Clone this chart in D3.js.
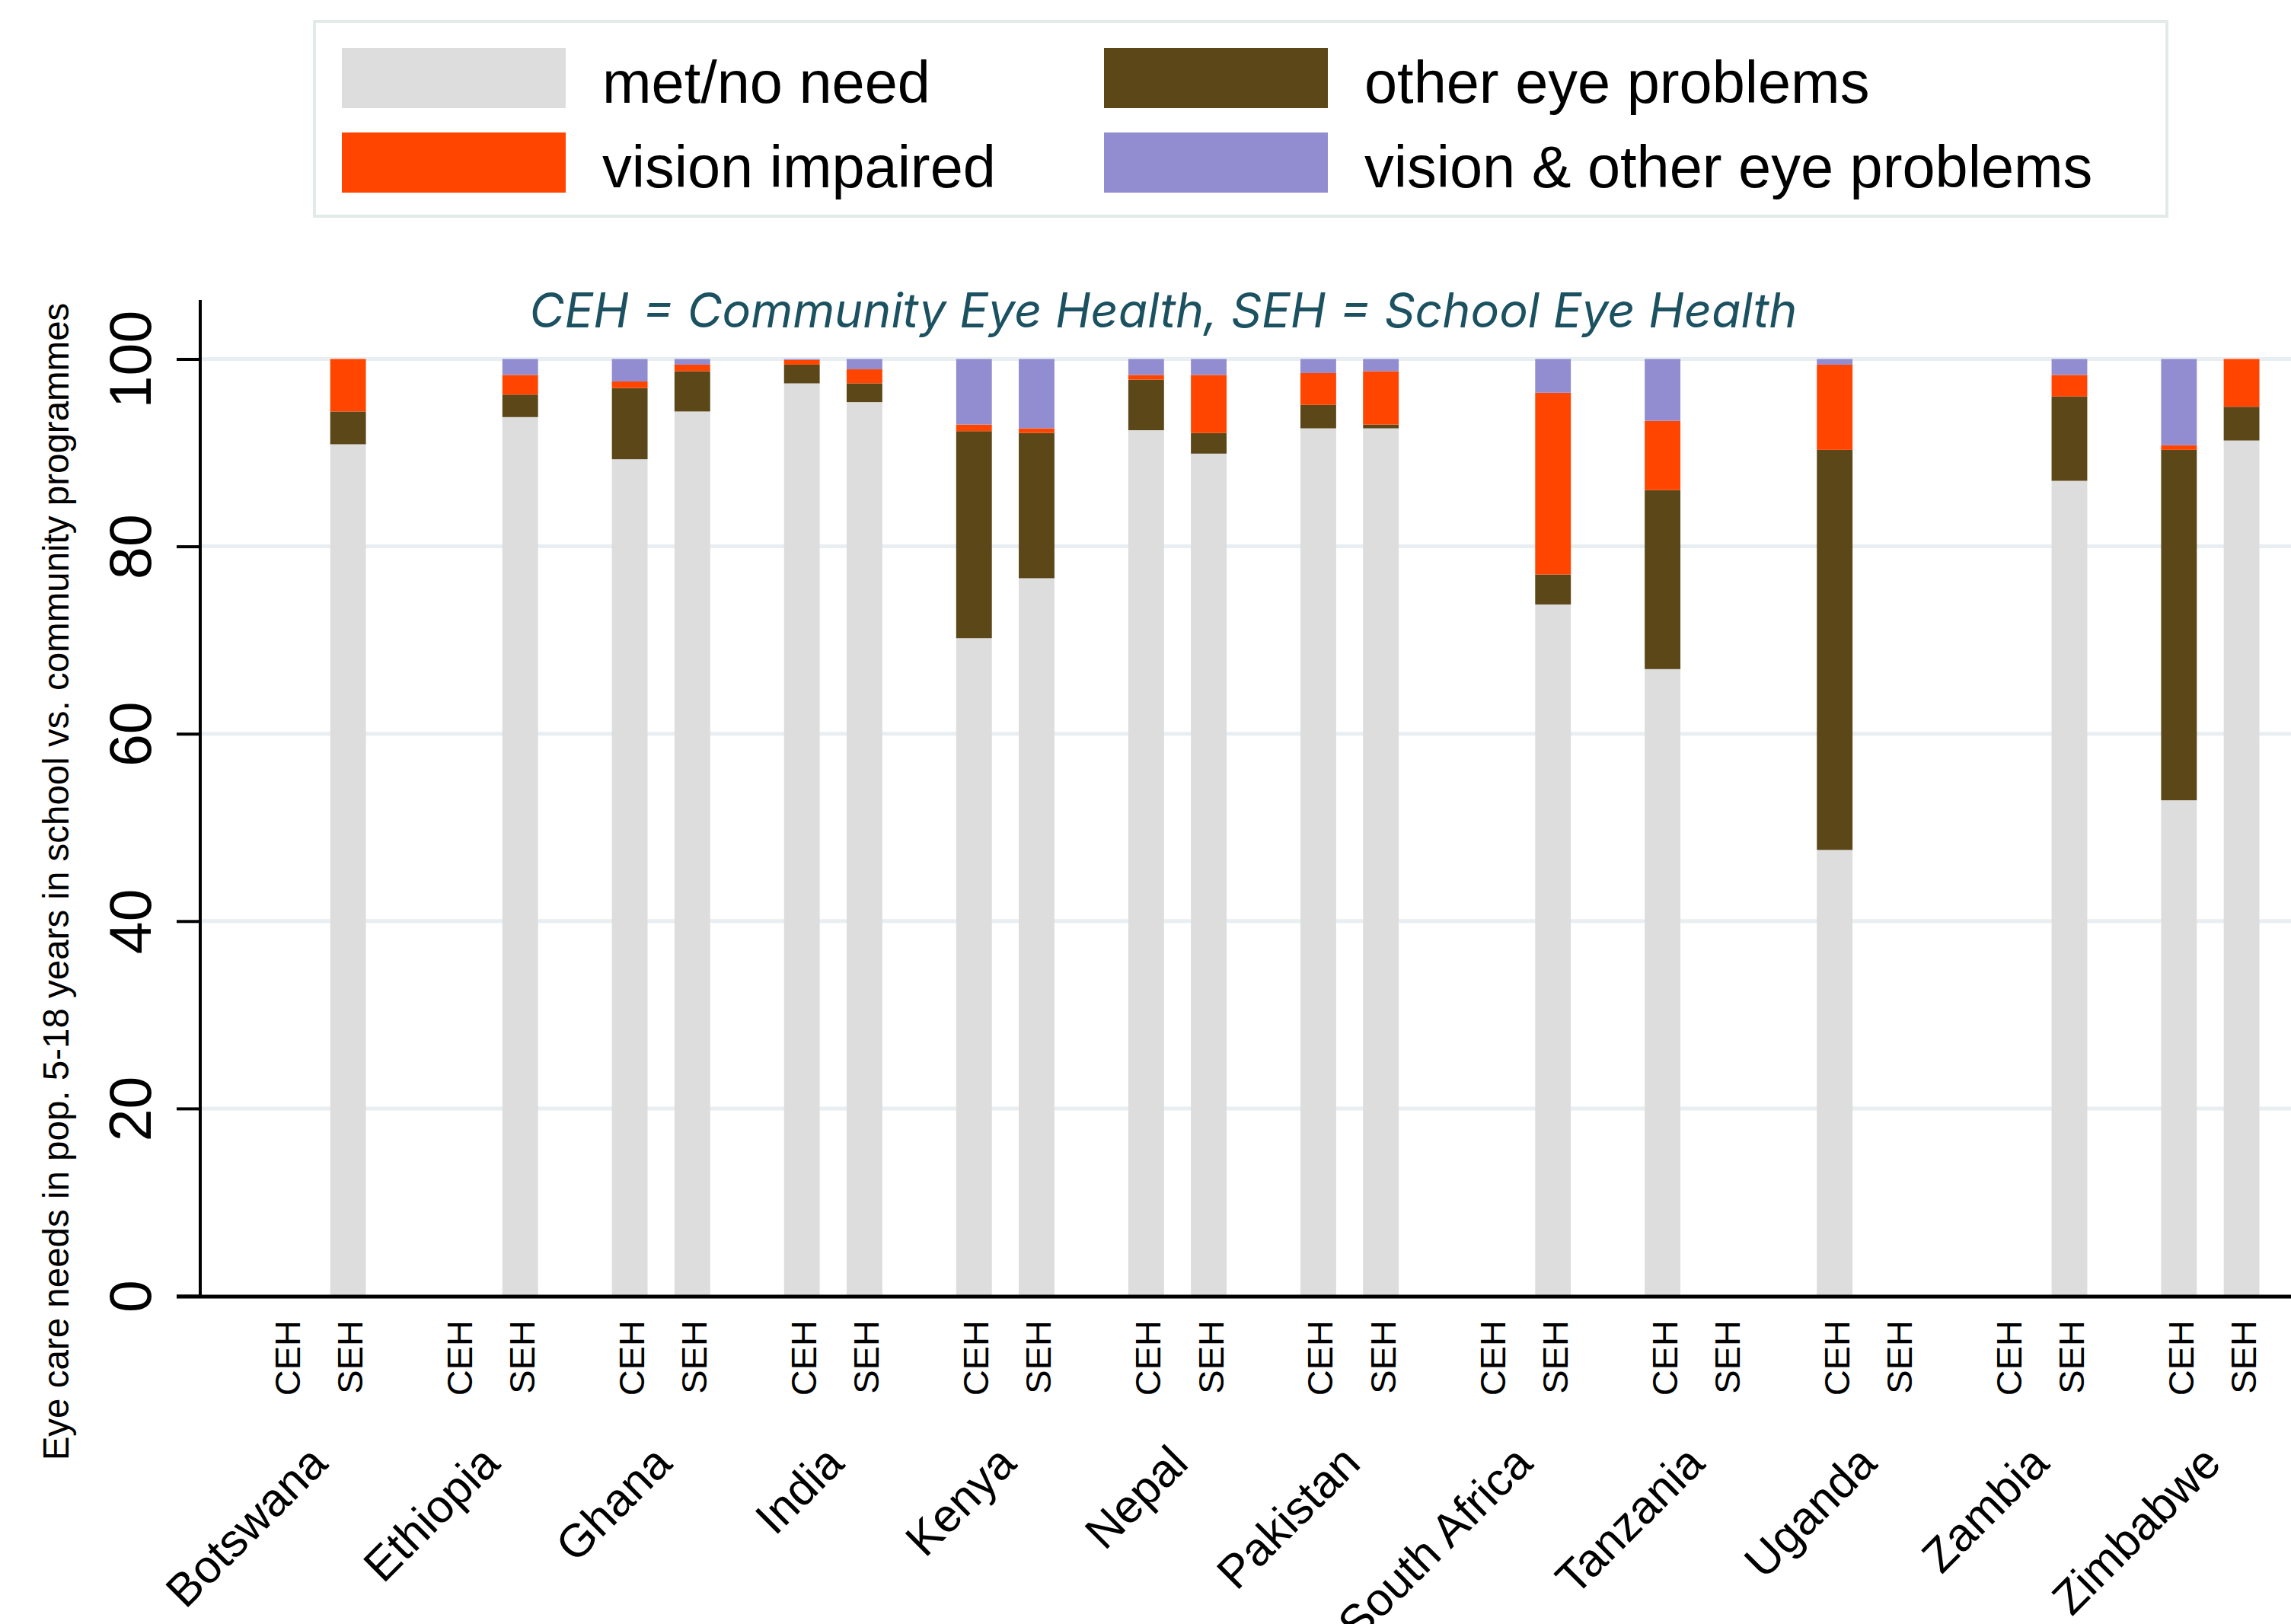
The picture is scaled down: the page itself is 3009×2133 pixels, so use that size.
<!DOCTYPE html>
<html>
<head>
<meta charset="utf-8">
<script src="https://cdn.jsdelivr.net/npm/d3@7"></script>
<style>
  body { margin: 0; background: #fff; }
  svg { display: block; }
</style>
</head>
<body>
<div id="chart"></div>
<script>
const countries = ["Botswana", "Ethiopia", "Ghana", "India", "Kenya", "Nepal",
  "Pakistan", "South Africa", "Tanzania", "Uganda", "Zambia", "Zimbabwe"];
const programmes = ["CEH", "SEH"];

// one value per bar: country by country, CEH then SEH (null = no programme)
const metNoNeed = [null, 90.9, null, 93.8, 89.3, 94.4, 97.4, 95.4, 70.2, 76.6, 92.4, 89.9,
  92.6, 92.6, null, 73.8, 66.9, null, 47.6, null, null, 87.0, 52.9, 91.3];
const otherEye = [null, 3.5, null, 2.4, 7.6, 4.3, 2.0, 2.0, 22.1, 15.5, 5.4, 2.2,
  2.5, 0.4, null, 3.2, 19.1, null, 42.7, null, null, 9.0, 37.4, 3.6];
const visionImpaired = [null, 5.6, null, 2.1, 0.7, 0.7, 0.5, 1.5, 0.7, 0.5, 0.5, 6.2,
  3.4, 5.7, null, 19.4, 7.4, null, 9.1, null, null, 2.3, 0.5, 5.1];
const visionAndOther = [null, 0, null, 1.7, 2.4, 0.6, 0.1, 1.1, 7.0, 7.4, 1.7, 1.7,
  1.5, 1.3, null, 3.6, 6.6, null, 0.6, null, null, 1.7, 9.2, 0];

const seriesKeys = ["met/no need", "other eye problems", "vision impaired", "vision & other eye problems"];
const seriesColors = ["#dddddd", "#5b4718", "#ff4500", "#928dd0"];
const yTicks = [0, 20, 40, 60, 80, 100];
const titleText = "CEH = Community Eye Health, SEH = School Eye Health";
const yTitle = "Eye care needs in pop. 5-18 years in school vs. community programmes";

const width = 3009, height = 2133;
const axisX = 263;

const svg = d3.select("#chart").append("svg")
  .attr("width", width)
  .attr("height", height)
  .style("font-family", "'Liberation Sans', Arial, sans-serif");

const rows = [];
countries.forEach((c, i) => {
  programmes.forEach((p, j) => {
    const k = i * 2 + j;
    if (metNoNeed[k] === null) return;
    rows.push({
      country: c, prog: p,
      [seriesKeys[0]]: metNoNeed[k],
      [seriesKeys[1]]: otherEye[k],
      [seriesKeys[2]]: visionImpaired[k],
      [seriesKeys[3]]: visionAndOther[k]
    });
  });
});

const x0 = d3.scaleBand().domain(countries).range([303, 3016]);
const x1 = d3.scaleBand().domain(programmes).range([0, x0.bandwidth()])
  .paddingInner(0.43).paddingOuter(0.59);
const y = d3.scaleLinear().domain([0, 106.3]).range([1702, 394]);
const color = d3.scaleOrdinal().domain(seriesKeys).range(seriesColors);

// gridlines
svg.append("g").selectAll("line")
  .data(yTicks.filter(d => d > 0))
  .join("line")
  .attr("x1", axisX).attr("x2", width)
  .attr("y1", d => y(d)).attr("y2", d => y(d))
  .attr("stroke", "#e8eef1")
  .attr("stroke-width", 5);

// stacked bars
const stacked = d3.stack().keys(seriesKeys)(rows);
svg.append("g").selectAll("g")
  .data(stacked)
  .join("g")
  .attr("fill", d => color(d.key))
  .selectAll("rect")
  .data(d => d)
  .join("rect")
  .attr("x", d => x0(d.data.country) + x1(d.data.prog))
  .attr("width", x1.bandwidth())
  .attr("y", d => y(d[1]))
  .attr("height", d => y(d[0]) - y(d[1]));

// y axis
const yAxis = svg.append("g")
  .attr("transform", `translate(${axisX},0)`)
  .call(d3.axisLeft(y).tickValues(yTicks).tickSize(31).tickFormat(d3.format("d")));
yAxis.select(".domain").remove();
yAxis.selectAll(".tick line").attr("stroke", "#000").attr("stroke-width", 4);
yAxis.selectAll(".tick text")
  .attr("transform", "rotate(-90)")
  .attr("x", 0).attr("y", -65).attr("dy", 0)
  .attr("text-anchor", "middle")
  .attr("fill", "#000")
  .style("font-family", "'Liberation Sans', Arial, sans-serif")
  .style("font-size", "77px");

svg.append("line")
  .attr("x1", axisX).attr("x2", axisX)
  .attr("y1", y(0)).attr("y2", y.range()[1])
  .attr("stroke", "#000").attr("stroke-width", 4);
svg.append("line")
  .attr("x1", axisX - 31).attr("x2", width)
  .attr("y1", y(0) + 1).attr("y2", y(0) + 1)
  .attr("stroke", "#000").attr("stroke-width", 5);

// programme labels
const progLabels = countries.flatMap(c => programmes.map(p => ({ country: c, prog: p })));
svg.append("g").selectAll("text")
  .data(progLabels)
  .join("text")
  .attr("transform", d => `translate(${x0(d.country) + x1(d.prog) + x1.bandwidth() / 2 + 19},1734) rotate(-90)`)
  .attr("text-anchor", "end")
  .style("font-size", "47px")
  .text(d => d.prog);

// country labels
svg.append("g").selectAll("text")
  .data(countries)
  .join("text")
  .attr("transform", d => `translate(${x0(d) + x0.bandwidth() / 2 + 17},1925) rotate(-45)`)
  .attr("text-anchor", "end")
  .style("font-size", "61px")
  .text(d => d);

// y axis title
svg.append("text")
  .attr("transform", "translate(90,1158) rotate(-90)")
  .attr("text-anchor", "middle")
  .style("font-size", "47.5px")
  .text(yTitle);

// note
const note = svg.append("text")
  .attr("x", 1528).attr("y", 430)
  .attr("text-anchor", "middle")
  .attr("fill", "#1b5160")
  .style("font-family", "Inter, 'Noto Sans', sans-serif")
  .style("font-style", "italic")
  .style("font-size", "66px")
  .text(titleText);
const noteLen = note.node().getComputedTextLength();
note.style("font-size", (66 * 1665 / noteLen) + "px");

// legend
const legend = svg.append("g");
legend.append("rect")
  .attr("x", 413).attr("y", 28)
  .attr("width", 2433).attr("height", 256)
  .attr("fill", "#fff")
  .attr("stroke", "#e2eaea")
  .attr("stroke-width", 4);
const colX = [449, 1450], rowY = [63, 174];
const items = legend.selectAll("g.item")
  .data(seriesKeys)
  .join("g")
  .attr("class", "item")
  .attr("transform", (d, i) => `translate(${colX[i % 2]},${rowY[Math.floor(i / 2)]})`);
items.append("rect")
  .attr("width", 294).attr("height", 79)
  .attr("fill", d => color(d));
items.append("text")
  .attr("x", 342).attr("y", 72)
  .style("font-size", "77.5px")
  .text(d => d);
</script>
</body>
</html>
